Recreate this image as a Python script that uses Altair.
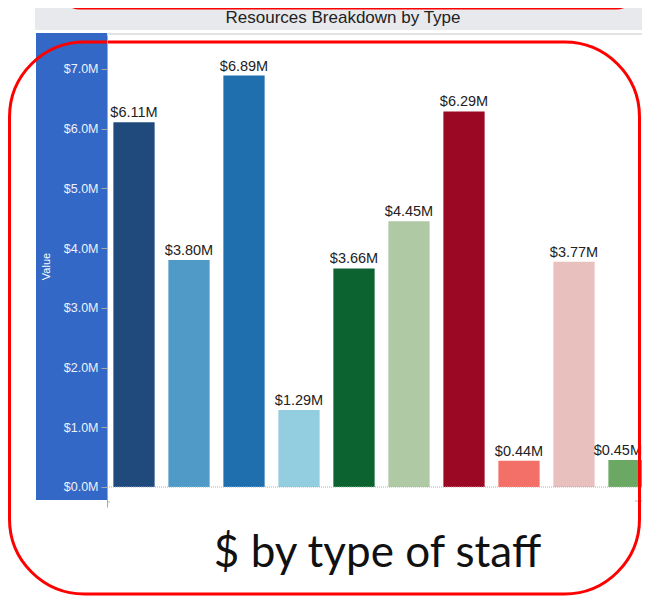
import altair as alt
import pandas as pd

# ---- data ----
categories = ["Type 1", "Type 2", "Type 3", "Type 4", "Type 5",
              "Type 6", "Type 7", "Type 8", "Type 9", "Type 10"]
values = [6.11, 3.80, 6.89, 1.29, 3.66, 4.45, 6.29, 0.44, 3.77, 0.45]  # $ millions
colors = ["#1f4a7b", "#4f9ac6", "#1f6fae", "#92cde0", "#0c6330",
          "#b0c9a5", "#9a0824", "#f37068", "#e8c0bd", "#6aa864"]
y_ticks = [0, 1, 2, 3, 4, 5, 6, 7]

chart_title = "Resources Breakdown by Type"
axis_title = "Value"
note_text = "$ by type of staff"

df = pd.DataFrame({"type": categories, "value": values, "color": colors})
df["label"] = df["value"].map(lambda v: f"${v:.2f}M")
one = pd.DataFrame({"k": [0]})

W, H = 634, 588

x_enc = alt.X("type:N", sort=categories, axis=None,
              scale=alt.Scale(range=[98.5, 648.5], paddingInner=0.25, paddingOuter=0.125))
y_enc = alt.Y("value:Q",
              scale=alt.Scale(domain=[-0.335, 7.569], range=[499, 27], nice=False, zero=False),
              axis=alt.Axis(values=y_ticks, offset=-99, grid=False,
                            labelExpr="'$' + format(datum.value, '.1f') + 'M'",
                            labelColor="#eef2fa", labelFont="Liberation Sans", labelFontSize=12.5,
                            labelPadding=3, tickSize=6, tickColor="#a8a8a8",
                            domainColor="#a8a8a8", zindex=1,
                            title=axis_title, titleColor="#ffffff", titleFont="Liberation Sans",
                            titleFontSize=11, titleFontWeight="normal", titleAngle=-90,
                            titleX=-61, titleY=258, titleAlign="center", titleBaseline="middle"))

title_bar = alt.Chart(one).mark_rect(color="#e8e9ec").encode(
    x=alt.value(27), x2=alt.value(W), y=alt.value(-5), y2=alt.value(22))
title_txt = alt.Chart(one).mark_text(font="Liberation Sans", fontSize=17, color="#222222",
                                     align="center", baseline="middle").encode(
    x=alt.value(335), y=alt.value(10), text=alt.value(chart_title))
blue_panel = alt.Chart(one).mark_rect(color="#3368c6").encode(
    x=alt.value(28), x2=alt.value(99), y=alt.value(25), y2=alt.value(492))
top_line = alt.Chart(one).mark_rule(color="#c8c8c8").encode(
    x=alt.value(99), x2=alt.value(W), y=alt.value(26))

bars = alt.Chart(df).mark_bar().encode(
    x=x_enc, y=y_enc, y2=alt.datum(0),
    color=alt.Color("color:N", scale=None))
labels = alt.Chart(df).transform_filter(
    alt.datum.type != categories[-1]
).mark_text(dy=-5, baseline="alphabetic", font="Liberation Sans",
            fontSize=14.5, color="#222222").encode(
    x=x_enc, y=y_enc, text="label:N")
label_last = alt.Chart(df).transform_filter(
    alt.datum.type == categories[-1]
).mark_text(dy=-5, dx=13, align="right", baseline="alphabetic", font="Liberation Sans",
            fontSize=14.5, color="#222222").encode(
    x=x_enc, y=y_enc, text="label:N")

baseline = alt.Chart(one).mark_rule(color="#b0b0b0", strokeDash=[1, 1]).encode(
    x=alt.value(99), x2=alt.value(W), y=alt.datum(0))
stub_left = alt.Chart(one).mark_rule(color="#b8b8b8").encode(
    x=alt.value(99), x2=alt.value(102), y=alt.value(494))
stub_right = alt.Chart(one).mark_rule(color="#b8b8b8").encode(
    x=alt.value(627), x2=alt.value(W), y=alt.value(493))

red_big = alt.Chart(one).mark_rect(filled=False, stroke="#ff0000", strokeWidth=3,
                                   cornerRadius=75).encode(
    x=alt.value(1.5), x2=alt.value(631.5), y=alt.value(34), y2=alt.value(586))
red_top = alt.Chart(one).mark_rect(filled=False, stroke="#ff0000", strokeWidth=3,
                                   cornerRadius=20).encode(
    x=alt.value(52), x2=alt.value(628), y=alt.value(-60), y2=alt.value(0))

note = alt.Chart(one).mark_text(font="Lato", fontSize=44, color="#111111",
                                align="center", baseline="alphabetic").encode(
    x=alt.value(369.5), y=alt.value(559), text=alt.value(note_text))

chart = alt.layer(
    title_bar, title_txt, blue_panel, top_line, bars, labels, label_last, baseline,
    stub_left, stub_right, red_big, red_top, note
).properties(
    width=W, height=H, padding=0, autosize=alt.AutoSizeParams(type="none")
).configure_view(stroke=None)

chart.save("out.html", embed_options={"renderer": "svg", "actions": False})
